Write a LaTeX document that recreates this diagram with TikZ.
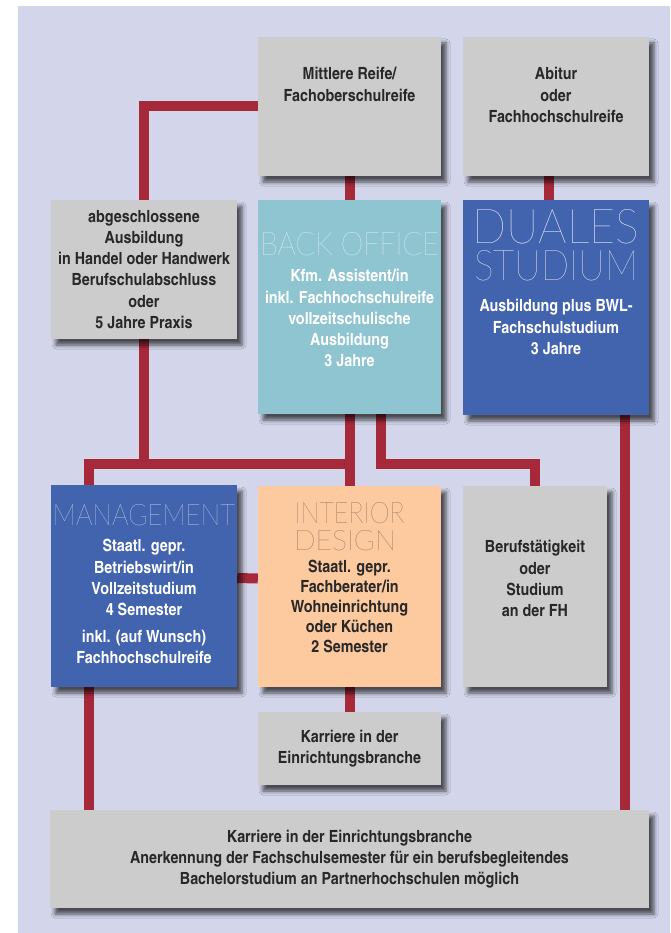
\documentclass[tikz,border=0pt]{standalone}
\usepackage{fontspec}
\usepackage{graphicx}
\setmainfont{texgyreheroscn}[Extension=.otf, UprightFont=*-regular, BoldFont=*-bold, FakeStretch=1.04]
\IfFontExistsTF{Lato Thin}{\newfontfamily\thinfont{Lato Thin}}{\newfontfamily\thinfont{Lato Hairline}}
\usepackage{tikz}
\usetikzlibrary{positioning,backgrounds,shadows.blur}

\definecolor{bgcol}{RGB}{211,214,235}
\definecolor{boxgray}{RGB}{204,204,204}
\definecolor{boxteal}{RGB}{143,196,209}
\definecolor{boxblue}{RGB}{66,99,174}
\definecolor{boxpeach}{RGB}{253,201,159}
\definecolor{linered}{RGB}{166,41,58}
\definecolor{textdark}{RGB}{40,40,40}
\definecolor{titledark}{RGB}{85,80,75}

\tikzset{
  box/.style={rectangle, inner sep=0pt,
    blur shadow={shadow xshift=5pt, shadow yshift=-6pt, shadow blur radius=4pt, shadow opacity=65}},
  graybox/.style={box, fill=boxgray},
  tealbox/.style={box, fill=boxteal},
  bluebox/.style={box, fill=boxblue},
  peachbox/.style={box, fill=boxpeach},
  body/.style={inner sep=0pt, align=center, text=textdark,
    font=\bfseries\fontsize{16.8}{21.2}\selectfont},
  headline/.style={inner sep=0pt, anchor=base, text=white, font=\thinfont\fontsize{30}{30}\selectfont},
  link/.style={draw=linered, line width=10pt},
}

\begin{document}
\begin{tikzpicture}[x=1pt, y=-1pt]
  \useasboundingbox (0,0) rectangle (670,933);

  % boxes
  \node[graybox, minimum width=183pt, minimum height=139pt] (reife) at (349.5,106.5) {};
  \node[graybox, minimum width=186pt, minimum height=139pt] (abitur) at (556,106.5) {};
  \node[graybox, minimum width=186pt, minimum height=139pt, body] (abschluss) at (144,269.5)
    {abgeschlossene\\Ausbildung\\in Handel oder Handwerk\\Berufschulabschluss\\oder\\5 Jahre Praxis};
  \node[tealbox, minimum width=183pt, minimum height=214pt] (backoffice) at (349.5,307) {};
  \node[bluebox, minimum width=186pt, minimum height=215pt] (duales) at (556,307.5) {};
  \node[bluebox, minimum width=186pt, minimum height=202pt] (mgmt) at (144,586) {};
  \node[peachbox, minimum width=183pt, minimum height=201pt] (interior) at (349.5,586.5) {};
  \node[graybox, minimum width=144pt, minimum height=201pt] (berufs) at (535,586.5) {};
  \node[graybox, minimum width=183pt, minimum height=73pt, body] (karriere) at (349.5,748.5)
    {Karriere in der\\Einrichtungsbranche};
  \node[graybox, minimum width=599pt, minimum height=98pt, body] (ziel) at (349.5,859)
    {Karriere in der Einrichtungsbranche\\Anerkennung der Fachschulsemester für ein berufsbegleitendes\\Bachelorstudium an Partnerhochschulen möglich};

  % texts
  \node[body, below=30.5pt of reife.north] (reifetext) {Mittlere Reife/\\Fachoberschulreife};
  \node[body, below=30.5pt of abitur.north] (abiturtext) {Abitur\\oder\\Fachhochschulreife};

  \node[headline] (botitle) at ([yshift=-56pt]backoffice.north) {\resizebox{179pt}{23pt}{BACK OFFICE}};
  \node[body, text=white, below=69.5pt of backoffice.north] (botext)
    {Kfm. Assistent/in\\inkl. Fachhochschulreife\\vollzeitschulische\\Ausbildung\\3 Jahre};

  \node[headline] (dutitle) at ([yshift=-44pt]duales.north) {\resizebox{166pt}{34pt}{DUALES}};
  \node[headline] (dutitleb) at ([yshift=-81pt]duales.north) {\resizebox{164pt}{30pt}{STUDIUM}};
  \node[body, text=white, below=99.5pt of duales.north] (dutext)
    {Ausbildung plus BWL-\\Fachschulstudium\\3 Jahre};

  \node[headline] (mgtitle) at ([yshift=-41pt]mgmt.north) {\resizebox{182pt}{21pt}{MANAGEMENT}};
  \node[body, text=white, below=54.5pt of mgmt.north] (mgtext)
    {Staatl. gepr.\\Betriebswirt/in\\Vollzeitstudium\\4 Semester\\[6pt]inkl. (auf Wunsch)\\Fachhochschulreife};

  \node[headline, text=titledark] (intitle) at ([yshift=-38pt]interior.north) {\resizebox{110pt}{21pt}{INTERIOR}};
  \node[headline, text=titledark] (intitleb) at ([xshift=-4.5pt, yshift=-65pt]interior.north) {\resizebox{102pt}{20pt}{DESIGN}};
  \node[body, font=\bfseries\fontsize{16.8}{20}\selectfont, below=74.5pt of interior.north] (intext)
    {Staatl. gepr.\\Fachberater/in\\Wohneinrichtung\\oder Küchen\\2 Semester};

  \node[body, below=54.5pt of berufs.north] (berufstext) {Berufstätigkeit\\oder\\Studium\\an der FH};

  \coordinate (busL) at (89,464);

  \begin{scope}[on background layer]
    \fill[bgcol] (18,6) rectangle (670,933);
    \draw[link] (reife.west) -| (abschluss.north);
    \draw[link] (reife.south) -- (backoffice.north);
    \draw[link] ([xshift=-7pt]abitur.south) -- ([xshift=-7pt]duales.north);
    \draw[link] (abschluss.south) |- (busL) -- (busL |- mgmt.north);
    \draw[link] (busL) -- (backoffice.south |- busL);
    \draw[link] (backoffice.south) -- (interior.north);
    \draw[link] ([xshift=31pt]backoffice.south) |- (berufs.north |- busL) -- (berufs.north);
    \draw[link] ([yshift=8pt]mgmt.east) -- ([yshift=8pt]interior.west);
    \draw[link] (interior.south) -- (karriere.north);
    \draw[link] (busL |- mgmt.south) -- (busL |- ziel.north);
    \draw[link] ([xshift=69pt]duales.south) -- ([xshift=69pt]duales.south |- ziel.north);
  \end{scope}
\end{tikzpicture}
\end{document}
